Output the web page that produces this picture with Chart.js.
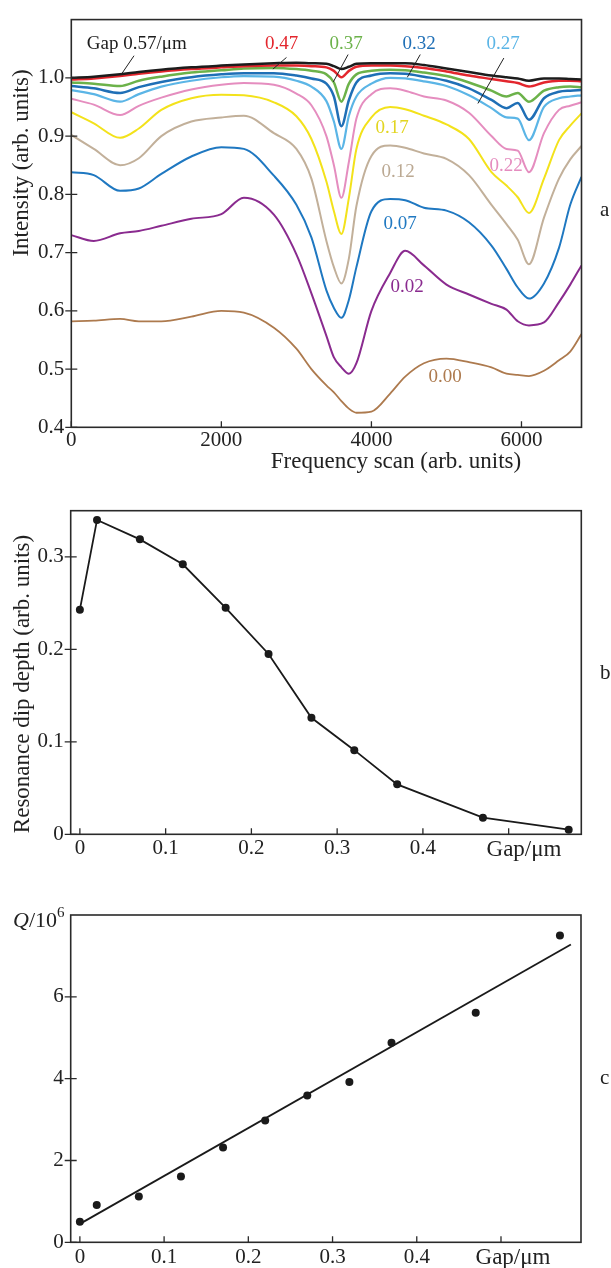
<!DOCTYPE html>
<html>
<head>
<meta charset="utf-8">
<script src="https://cdn.jsdelivr.net/npm/chart.js@4.4.0/dist/chart.umd.min.js"></script>
<style>
  html, body { margin: 0; padding: 0; background: #fff; }
  body { width: 611px; height: 1268px; position: relative; overflow: hidden; }
  .panel { position: absolute; left: 0; width: 611px; }
</style>
</head>
<body>
<div class="panel" style="top:0;height:490px"><canvas id="spectraChart" width="611" height="490"></canvas></div>
<div class="panel" style="top:490px;height:390px"><canvas id="dipChart" width="611" height="390"></canvas></div>
<div class="panel" style="top:880px;height:388px"><canvas id="qChart" width="611" height="388"></canvas></div>
<script>
// panel a: transmission spectra for each gap
const scanX = [0, 300, 650, 900, 1200, 1600, 2000, 2300, 2700, 3000, 3200, 3400, 3500, 3600, 3700, 3800, 4000, 4250, 4450, 4700, 5000, 5300, 5600, 5800, 5950, 6100, 6300, 6500, 6650, 6800];
const gap057 = [1.000, 1.002, 1.006, 1.010, 1.014, 1.018, 1.021, 1.023, 1.025, 1.026, 1.025, 1.024, 1.020, 1.015, 1.019, 1.024, 1.025, 1.025, 1.025, 1.022, 1.016, 1.010, 1.004, 1.001, 0.999, 0.995, 0.999, 0.999, 0.998, 0.997];
const gap047 = [0.997, 0.999, 1.003, 1.007, 1.011, 1.015, 1.018, 1.020, 1.021, 1.021, 1.020, 1.018, 1.012, 1.001, 1.012, 1.019, 1.021, 1.021, 1.020, 1.017, 1.011, 1.004, 0.998, 0.994, 0.991, 0.985, 0.992, 0.995, 0.995, 0.994];
const gap037 = [0.992, 0.990, 0.986, 0.995, 1.002, 1.009, 1.013, 1.016, 1.017, 1.015, 1.012, 1.006, 0.992, 0.959, 0.990, 1.006, 1.012, 1.014, 1.013, 1.009, 1.003, 0.992, 0.978, 0.968, 0.974, 0.959, 0.978, 0.984, 0.985, 0.984];
const gap032 = [0.986, 0.982, 0.974, 0.984, 0.993, 1.001, 1.006, 1.008, 1.008, 1.004, 0.999, 0.990, 0.968, 0.917, 0.962, 0.992, 1.004, 1.008, 1.007, 1.002, 0.995, 0.982, 0.962, 0.948, 0.957, 0.928, 0.965, 0.976, 0.978, 0.979];
const gap027 = [0.979, 0.972, 0.959, 0.972, 0.985, 0.995, 1.001, 1.003, 1.002, 0.995, 0.985, 0.960, 0.925, 0.878, 0.935, 0.968, 0.990, 1.000, 0.999, 0.994, 0.986, 0.970, 0.948, 0.932, 0.930, 0.893, 0.950, 0.965, 0.968, 0.970];
const gap022 = [0.964, 0.954, 0.936, 0.952, 0.966, 0.980, 0.988, 0.991, 0.988, 0.973, 0.953, 0.900, 0.850, 0.794, 0.856, 0.930, 0.972, 0.982, 0.978, 0.968, 0.961, 0.940, 0.900, 0.878, 0.875, 0.838, 0.905, 0.945, 0.952, 0.958];
const gap017 = [0.941, 0.922, 0.897, 0.913, 0.945, 0.965, 0.971, 0.970, 0.958, 0.934, 0.895, 0.822, 0.771, 0.732, 0.794, 0.878, 0.932, 0.950, 0.946, 0.935, 0.920, 0.895, 0.838, 0.815, 0.795, 0.768, 0.827, 0.893, 0.918, 0.939];
const gap012 = [0.902, 0.878, 0.850, 0.862, 0.900, 0.925, 0.932, 0.935, 0.905, 0.878, 0.827, 0.720, 0.675, 0.647, 0.690, 0.780, 0.866, 0.884, 0.880, 0.870, 0.861, 0.833, 0.782, 0.749, 0.722, 0.680, 0.760, 0.827, 0.860, 0.883];
const gap007 = [0.838, 0.833, 0.806, 0.810, 0.835, 0.865, 0.881, 0.878, 0.832, 0.782, 0.726, 0.635, 0.605, 0.588, 0.619, 0.675, 0.771, 0.792, 0.790, 0.777, 0.772, 0.752, 0.712, 0.672, 0.640, 0.621, 0.647, 0.708, 0.782, 0.830];
const gap002 = [0.730, 0.720, 0.733, 0.737, 0.746, 0.758, 0.766, 0.794, 0.765, 0.697, 0.630, 0.557, 0.520, 0.503, 0.492, 0.510, 0.600, 0.665, 0.703, 0.678, 0.645, 0.628, 0.612, 0.602, 0.582, 0.575, 0.580, 0.615, 0.645, 0.678];
const gap000 = [0.582, 0.583, 0.586, 0.582, 0.582, 0.590, 0.600, 0.597, 0.571, 0.535, 0.500, 0.472, 0.460, 0.445, 0.432, 0.425, 0.427, 0.458, 0.487, 0.510, 0.518, 0.512, 0.503, 0.492, 0.490, 0.488, 0.497, 0.515, 0.530, 0.560];
const scanTicks = [0, 2000, 4000, 6000];
const intensityTicks = [0.4, 0.5, 0.6, 0.7, 0.8, 0.9, 1.0];

// panels b and c
const gapValues = [0, 0.02, 0.07, 0.12, 0.17, 0.22, 0.27, 0.32, 0.37, 0.47, 0.57];
const dipDepth = [0.243, 0.340, 0.319, 0.292, 0.245, 0.195, 0.126, 0.091, 0.054, 0.018, 0.005];
const qFactor = [0.50, 0.91, 1.12, 1.61, 2.32, 2.98, 3.59, 3.92, 4.88, 5.61, 7.50];
const fitGap = [0, 0.583];
const fitQ = [0.45, 7.28];
const gapTicks = [0, 0.1, 0.2, 0.3, 0.4, 0.5];
const gapTickLabels = ['0', '0.1', '0.2', '0.3', '0.4', ''];
const depthTicks = [0, 0.1, 0.2, 0.3];
const depthTickLabels = ['0', '0.1', '0.2', '0.3'];
const qTicks = [0, 2, 4, 6];

const SERIF = "'Liberation Serif', 'Times New Roman', serif";
Chart.defaults.font.family = SERIF;
Chart.defaults.color = '#222';

const toPoints = (xs, ys) => xs.map((x, i) => ({ x: x, y: ys[i] }));

// frame round the plot area plus short tick marks
const framePlugin = {
    id: 'frame',
    afterDatasetsDraw(chart) {
        const { ctx, chartArea: a, scales } = chart;
        ctx.save();
        ctx.strokeStyle = '#2a2a2a';
        ctx.lineWidth = 1.6;
        ctx.strokeRect(a.left, a.top, a.right - a.left, a.bottom - a.top);
        ctx.lineWidth = 1.3;
        ctx.beginPath();
        scales.x.ticks.forEach(t => {
            const px = scales.x.getPixelForValue(t.value);
            ctx.moveTo(px, a.bottom);
            ctx.lineTo(px, a.bottom - 6);
        });
        scales.y.ticks.forEach(t => {
            const py = scales.y.getPixelForValue(t.value);
            ctx.moveTo(a.left - 6, py);
            ctx.lineTo(a.left + 6, py);
        });
        ctx.stroke();
        ctx.restore();
    }
};

// free text and leader lines; x/y in data units, px/py in canvas pixels
const notesPlugin = {
    id: 'notes',
    afterDraw(chart, args, opts) {
        const { ctx } = chart;
        const sx = chart.scales.x, sy = chart.scales.y;
        const X = o => o.px !== undefined ? o.px : sx.getPixelForValue(o.x);
        const Y = o => o.py !== undefined ? o.py : sy.getPixelForValue(o.y);
        ctx.save();
        ctx.strokeStyle = '#222';
        ctx.lineWidth = 1;
        (opts.lines || []).forEach(l => {
            ctx.beginPath();
            ctx.moveTo(sx.getPixelForValue(l[0]), sy.getPixelForValue(l[1]));
            ctx.lineTo(sx.getPixelForValue(l[2]), sy.getPixelForValue(l[3]));
            ctx.stroke();
        });
        (opts.texts || []).forEach(t => {
            ctx.save();
            ctx.font = t.font;
            ctx.fillStyle = t.color || '#222';
            ctx.textAlign = t.align || 'center';
            ctx.textBaseline = t.baseline || 'middle';
            ctx.translate(X(t), Y(t));
            if (t.rotate) ctx.rotate(-Math.PI / 2);
            ctx.fillText(t.text, 0, 0);
            ctx.restore();
        });
        ctx.restore();
    }
};

function baseScales(o) {
    return {
        x: {
            type: 'linear', min: o.xMin, max: o.xMax,
            grid: { display: false, drawTicks: false },
            border: { display: false },
            afterBuildTicks: s => { s.ticks = o.xTicks.map(v => ({ value: v })); },
            afterFit: s => { s.height = o.xHeight; },
            ticks: { font: { size: 21 }, padding: o.xPad, maxRotation: 0, autoSkip: false, callback: o.xLabel }
        },
        y: {
            type: 'linear', min: o.yMin, max: o.yMax,
            grid: { display: false, drawTicks: false },
            border: { display: false },
            afterBuildTicks: s => { s.ticks = o.yTicks.map(v => ({ value: v })); },
            afterFit: s => { s.width = o.yWidth; },
            ticks: { font: { size: 21 }, padding: 7, autoSkip: false, callback: o.yLabel }
        }
    };
}

const commonOptions = {
    responsive: false,
    animation: false,
    events: [],
    plugins: { legend: { display: false }, tooltip: { enabled: false } }
};

document.addEventListener('DOMContentLoaded', function() {
    // Panel a
    const spectra = [
        { values: gap057, color: '#1c1c1c', width: 2.5 },
        { values: gap047, color: '#e3262d', width: 2.5 },
        { values: gap037, color: '#6cb24a', width: 2.5 },
        { values: gap032, color: '#1f6fb6', width: 2.5 },
        { values: gap027, color: '#5bb5e6', width: 2.2 },
        { values: gap022, color: '#e58dbf', width: 2 },
        { values: gap017, color: '#f3e21b', width: 2 },
        { values: gap012, color: '#c2b09a', width: 2 },
        { values: gap007, color: '#1f78c1', width: 2 },
        { values: gap002, color: '#8a2b8f', width: 2 },
        { values: gap000, color: '#ad7a4e', width: 1.8 }
    ];
    const labelFont = '19px ' + SERIF;
    new Chart(document.getElementById('spectraChart'), {
        type: 'scatter',
        data: {
            datasets: spectra.map(s => ({
                data: toPoints(scanX, s.values),
                showLine: true,
                borderColor: s.color,
                borderWidth: s.width,
                pointRadius: 0,
                cubicInterpolationMode: 'monotone'
            }))
        },
        options: Object.assign({}, commonOptions, {
            layout: { padding: { left: 0, top: 12.3, right: 29.5, bottom: 0 } },
            scales: baseScales({
                xMin: 0, xMax: 6800, xTicks: scanTicks, xHeight: 62.7, xPad: 1,
                xLabel: v => String(v),
                yMin: 0.4, yMax: 1.1, yTicks: intensityTicks, yWidth: 71.3,
                yLabel: v => v.toFixed(1)
            }),
            plugins: Object.assign({}, commonOptions.plugins, {
                notes: {
                    lines: [
                        [836, 1.038, 672, 1.007],
                        [2868, 1.035, 2687, 1.015],
                        [3689, 1.040, 3492, 0.993],
                        [4651, 1.040, 4479, 1.001],
                        [5765, 1.034, 5419, 0.956]
                    ],
                    texts: [
                        { text: 'Gap 0.57/\u03bcm', x: 872, y: 1.058, font: labelFont, color: '#1c1c1c' },
                        { text: '0.47', x: 2803, y: 1.058, font: labelFont, color: '#e3262d' },
                        { text: '0.37', x: 3663, y: 1.058, font: labelFont, color: '#6cb24a' },
                        { text: '0.32', x: 4636, y: 1.058, font: labelFont, color: '#1f6fb6' },
                        { text: '0.27', x: 5756, y: 1.058, font: labelFont, color: '#5bb5e6' },
                        { text: '0.17', x: 4276, y: 0.914, font: labelFont, color: '#e2d520' },
                        { text: '0.12', x: 4356, y: 0.838, font: labelFont, color: '#bba993' },
                        { text: '0.22', x: 5796, y: 0.848, font: labelFont, color: '#e58dbf' },
                        { text: '0.07', x: 4383, y: 0.749, font: labelFont, color: '#1f78c1' },
                        { text: '0.02', x: 4476, y: 0.641, font: labelFont, color: '#8a2b8f' },
                        { text: '0.00', x: 4983, y: 0.486, font: labelFont, color: '#ad7a4e' },
                        { text: 'Intensity (arb. units)', px: 22, py: 163, rotate: true, font: '23px ' + SERIF },
                        { text: 'Frequency scan (arb. units)', px: 396, py: 462, font: '23px ' + SERIF },
                        { text: 'a', px: 600, py: 210, align: 'left', font: '21px ' + SERIF }
                    ]
                }
            })
        }),
        plugins: [framePlugin, notesPlugin]
    });

    // Panel b
    new Chart(document.getElementById('dipChart'), {
        type: 'scatter',
        data: {
            datasets: [{
                data: toPoints(gapValues, dipDepth),
                showLine: true,
                borderColor: '#1a1a1a',
                borderWidth: 1.8,
                pointRadius: 4,
                pointBackgroundColor: '#1a1a1a',
                pointBorderWidth: 0,
                tension: 0
            }]
        },
        options: Object.assign({}, commonOptions, {
            layout: { padding: { left: 0, top: 20.7, right: 29.7, bottom: 0 } },
            scales: baseScales({
                xMin: -0.0107, xMax: 0.5847, xTicks: gapTicks, xHeight: 45.7, xPad: 2,
                xLabel: (v, i) => gapTickLabels[i],
                yMin: 0, yMax: 0.35, yTicks: depthTicks, yWidth: 70.7,
                yLabel: (v, i) => depthTickLabels[i]
            }),
            plugins: Object.assign({}, commonOptions.plugins, {
                notes: {
                    texts: [
                        { text: 'Gap/\u03bcm', px: 524, py: 366, baseline: 'alphabetic', font: '23px ' + SERIF },
                        { text: 'Resonance dip depth (arb. units)', px: 23, py: 194, rotate: true, font: '23px ' + SERIF },
                        { text: 'b', px: 600, py: 183, align: 'left', font: '21px ' + SERIF }
                    ]
                }
            })
        }),
        plugins: [framePlugin, notesPlugin]
    });

    // Panel c
    new Chart(document.getElementById('qChart'), {
        type: 'scatter',
        data: {
            datasets: [{
                data: toPoints(gapValues, qFactor),
                pointRadius: 4,
                pointBackgroundColor: '#1a1a1a',
                pointBorderWidth: 0
            }, {
                data: toPoints(fitGap, fitQ),
                showLine: true,
                borderColor: '#1a1a1a',
                borderWidth: 1.8,
                pointRadius: 0
            }]
        },
        options: Object.assign({}, commonOptions, {
            layout: { padding: { left: 0, top: 35, right: 30, bottom: 0 } },
            scales: baseScales({
                xMin: -0.0109, xMax: 0.595, xTicks: gapTicks, xHeight: 25.7, xPad: 2.5,
                xLabel: (v, i) => gapTickLabels[i],
                yMin: 0, yMax: 8, yTicks: qTicks, yWidth: 70.7,
                yLabel: v => String(v)
            }),
            plugins: Object.assign({}, commonOptions.plugins, {
                notes: {
                    texts: [
                        { text: 'Gap/\u03bcm', px: 513, py: 384, baseline: 'alphabetic', font: '23px ' + SERIF },
                        { text: 'Q', px: 13, py: 47, align: 'left', baseline: 'alphabetic', font: 'italic 22px ' + SERIF },
                        { text: '/10', px: 29, py: 47, align: 'left', baseline: 'alphabetic', font: '22px ' + SERIF },
                        { text: '6', px: 57, py: 37, align: 'left', baseline: 'alphabetic', font: '15px ' + SERIF },
                        { text: 'c', px: 600, py: 198, align: 'left', font: '21px ' + SERIF }
                    ]
                }
            })
        }),
        plugins: [framePlugin, notesPlugin]
    });
});
</script>
</body>
</html>
